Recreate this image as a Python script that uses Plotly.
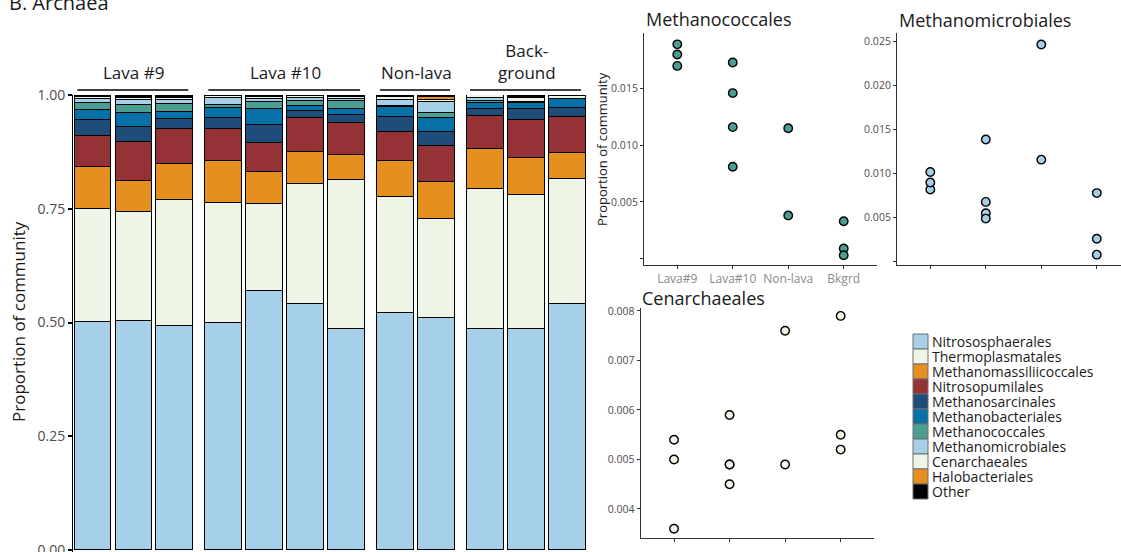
import plotly.graph_objects as go

W, H = 1121, 552

# ---------------- data ----------------
orders = ["Nitrososphaerales", "Thermoplasmatales", "Methanomassiliicoccales",
          "Nitrosopumilales", "Methanosarcinales", "Methanobacteriales",
          "Methanococcales", "Methanomicrobiales", "Cenarchaeales",
          "Halobacteriales", "Other"]
colors = ["#a6cfe9", "#eff5e6", "#e5901e", "#953236", "#1f4c79", "#0571a8",
          "#4a9e93", "#a6cfe9", "#eff5e6", "#e5901e", "#000000"]

group_labels = ["Lava #9", "Lava #10", "Non-lava", "Back-<br>ground"]
group_short = ["Lava#9", "Lava#10", "Non-lava", "Bkgrd"]
sample_group = [0, 0, 0, 1, 1, 1, 1, 2, 2, 3, 3, 3]

nitrososphaerales = [0.501, 0.503, 0.493, 0.500, 0.569, 0.541, 0.486, 0.521, 0.509, 0.486, 0.485, 0.541]
thermoplasmatales = [0.248, 0.239, 0.277, 0.263, 0.192, 0.264, 0.327, 0.255, 0.219, 0.307, 0.296, 0.275]
methanomassiliicoccales = [0.092, 0.070, 0.078, 0.091, 0.069, 0.069, 0.056, 0.079, 0.081, 0.089, 0.081, 0.057]
nitrosopumilales = [0.070, 0.084, 0.077, 0.071, 0.065, 0.075, 0.069, 0.064, 0.079, 0.071, 0.084, 0.078]
methanosarcinales = [0.034, 0.034, 0.022, 0.024, 0.038, 0.015, 0.018, 0.032, 0.030, 0.016, 0.024, 0.020]
methanobacteriales = [0.021, 0.030, 0.016, 0.022, 0.036, 0.012, 0.013, 0.022, 0.031, 0.014, 0.012, 0.020]
methanococcales = [0.0170, 0.0189, 0.0180, 0.0081, 0.0146, 0.0116, 0.0173, 0.0038, 0.0115, 0.0033, 0.0009, 0.0003]
methanomicrobiales = [0.0082, 0.0102, 0.0090, 0.0139, 0.0068, 0.0055, 0.0049, 0.0116, 0.0247, 0.0078, 0.0026, 0.0008]
cenarchaeales = [0.0050, 0.0054, 0.0036, 0.0049, 0.0059, 0.0045, 0.0049, 0.0076, 0.0049, 0.0052, 0.0079, 0.0055]
halobacteriales = [0.0020, 0.0015, 0.0024, 0.0010, 0.0017, 0.0010, 0.0020, 0.0010, 0.0050, 0.0004, 0.0030, 0.0004]
other = [0.0020, 0.0040, 0.0040, 0.0010, 0.0020, 0.0014, 0.0019, 0.0040, 0.0050, 0.0003, 0.0036, 0.0020]

layers = [nitrososphaerales, thermoplasmatales, methanomassiliicoccales, nitrosopumilales,
          methanosarcinales, methanobacteriales, methanococcales, methanomicrobiales,
          cenarchaeales, halobacteriales, other]

main_ticks = [0, 0.25, 0.5, 0.75, 1.0]
main_ticktext = ["0.00", "0.25", "0.50", "0.75", "1.00"]

# ---------------- helpers ----------------
def px(x):
    return x / W

def py(y):
    return 1 - y / H

FONT = "Open Sans"
DARK = "#1a1a1a"
GREY = "#4d4d4d"

fig = go.Figure()

# main stacked bar chart
xpos = [i + 0.2 * g for i, g in enumerate(sample_group)]
for name, col, vals in zip(orders, colors, layers):
    fig.add_trace(go.Bar(
        x=xpos, y=vals, name=name, width=0.9,
        marker=dict(color=col, line=dict(color="black", width=1.4)),
        xaxis="x", yaxis="y", showlegend=False))

# scatter panels
panels = [
    ("Methanococcales", methanococcales, "#4a9e93", "x2", "y2"),
    ("Methanomicrobiales", methanomicrobiales, "#a6cfe9", "x3", "y3"),
    ("Cenarchaeales", cenarchaeales, "#eff5e6", "x4", "y4"),
]
xcat = [group_short[g] for g in sample_group]
for title, vals, col, xa, ya in panels:
    fig.add_trace(go.Scatter(
        x=xcat, y=vals, mode="markers", xaxis=xa, yaxis=ya, showlegend=False,
        marker=dict(size=8.5, color=col, line=dict(color="black", width=1.4))))

# ---------------- layout ----------------
main_x0, main_x1 = 73, 590
slot = 40.9
x_first = 93
main_xrange = [(main_x0 - x_first) / slot, (main_x1 - x_first) / slot]

common_scatter_y = dict(showgrid=False, zeroline=False, showline=True, linecolor="#333333",
                        linewidth=1, ticks="outside", ticklen=3, tickwidth=1, tickcolor="#333333",
                        automargin=False, ticklabeloverflow="allow",
                        tickfont=dict(family=FONT, size=10.5, color=GREY))
common_scatter_x = dict(showgrid=False, zeroline=False, showline=True, linecolor="#333333",
                        linewidth=1, ticks="outside", ticklen=3, tickwidth=1, tickcolor="#333333",
                        automargin=False, ticklabeloverflow="allow",
                        type="category", categoryorder="array", categoryarray=group_short,
                        tickfont=dict(family=FONT, size=12, color="#8a8a8a"))

fig.update_layout(
    width=W, height=H, margin=dict(l=0, r=0, t=0, b=0, pad=0, autoexpand=False),
    paper_bgcolor="white", plot_bgcolor="white",
    barmode="stack", bargap=0,
    font=dict(family=FONT, color=DARK),
    xaxis=dict(domain=[px(main_x0), px(main_x1)], range=main_xrange, showgrid=False,
               zeroline=False, showline=False, showticklabels=False, ticks="", automargin=False),
    yaxis=dict(domain=[0, py(95)], range=[(550 - 552) / 455, 1.0], showgrid=False, zeroline=False,
               showline=True, linecolor="black", linewidth=1, ticks="outside", ticklen=4,
               tickwidth=1.5, tickcolor="black", tickvals=main_ticks, ticktext=main_ticktext,
               automargin=False, ticklabeloverflow="allow",
               tickfont=dict(family=FONT, size=14, color=GREY)),
    # Methanococcales
    xaxis2=dict(domain=[px(644), px(877)], range=[-0.6, 3.6], anchor="y2", **common_scatter_x),
    yaxis2=dict(domain=[py(265), py(33)], range=[-0.00056, 0.0199], anchor="x2",
                tickvals=[0, 0.005, 0.010, 0.015], ticktext=["", "0.005", "0.010", "0.015"],
                **common_scatter_y),
    # Methanomicrobiales
    xaxis3=dict(domain=[px(897), 1.0], range=[-0.6, -0.6 + (1121 - 897) / 55.5], anchor="y3",
                showticklabels=False, **common_scatter_x),
    yaxis3=dict(domain=[py(265.3), py(33)], range=[-0.00041, 0.0260], anchor="x3",
                tickvals=[0, 0.005, 0.010, 0.015, 0.020, 0.025],
                ticktext=["", "0.005", "0.010", "0.015", "0.020", "0.025"],
                **common_scatter_y),
    # Cenarchaeales
    xaxis4=dict(domain=[px(640.7), px(874)], range=[-0.6, 3.6], anchor="y4",
                showticklabels=False, **common_scatter_x),
    yaxis4=dict(domain=[py(537.7), py(308)], range=[0.00342, 0.00806], anchor="x4",
                tickvals=[0.004, 0.005, 0.006, 0.007, 0.008],
                ticktext=["0.004", "0.005", "0.006", "0.007", "0.008"],
                **common_scatter_y),
)

annotations = []
shapes = []

# title
annotations.append(dict(text="B. Archaea", x=px(7), y=py(2), xref="paper", yref="paper",
                        xanchor="left", yanchor="middle", showarrow=False,
                        font=dict(family=FONT, size=20, color=DARK)))
# main y title
annotations.append(dict(text="Proportion of community", x=px(18), y=py(322), xref="paper",
                        yref="paper", textangle=-90, showarrow=False,
                        xanchor="center", yanchor="middle",
                        font=dict(family=FONT, size=17, color=DARK)))
# group labels + lines
for g, lab in enumerate(group_labels):
    members = [xpos[i] for i, sg in enumerate(sample_group) if sg == g]
    center = (members[0] + members[-1]) / 2
    annotations.append(dict(text=lab, x=center, y=py(86), xref="x", yref="paper",
                            xanchor="center", yanchor="bottom", showarrow=False,
                            font=dict(family=FONT, size=17, color=DARK)))
    shapes.append(dict(type="line", xref="x", yref="paper", x0=members[0] - 0.38,
                       x1=members[-1] + 0.33, y0=py(90), y1=py(90),
                       line=dict(color="black", width=1.5)))

# scatter panel titles
for text, x0, yc in [("Methanococcales", 644, 19), ("Methanomicrobiales", 897, 20),
                     ("Cenarchaeales", 640, 298)]:
    annotations.append(dict(text=text, x=px(x0), y=py(yc), xref="paper", yref="paper",
                            xanchor="left", yanchor="middle", showarrow=False,
                            font=dict(family=FONT, size=18, color=DARK)))
annotations.append(dict(text="Proportion of community", x=px(602), y=py(149), xref="paper",
                        yref="paper", textangle=-90, showarrow=False,
                        xanchor="center", yanchor="middle",
                        font=dict(family=FONT, size=13, color=DARK)))

# manual legend
for k, (name, col) in enumerate(zip(orders, colors)):
    yc = 341.5 + 15 * k
    shapes.append(dict(type="rect", xref="paper", yref="paper", x0=px(913), x1=px(928),
                       y0=py(yc - 7.5), y1=py(yc + 7.5), fillcolor=col,
                       line=dict(color="#6e6e6e", width=1)))
    annotations.append(dict(text=name, x=px(930), y=py(yc), xref="paper", yref="paper",
                            xanchor="left", yanchor="middle", showarrow=False,
                            font=dict(family=FONT, size=14, color=DARK)))

fig.update_layout(annotations=annotations, shapes=shapes)
fig.write_html("out.html", config={"displayModeBar": False},
               post_script="document.body.style.margin='0px';document.body.style.overflow='hidden';")
